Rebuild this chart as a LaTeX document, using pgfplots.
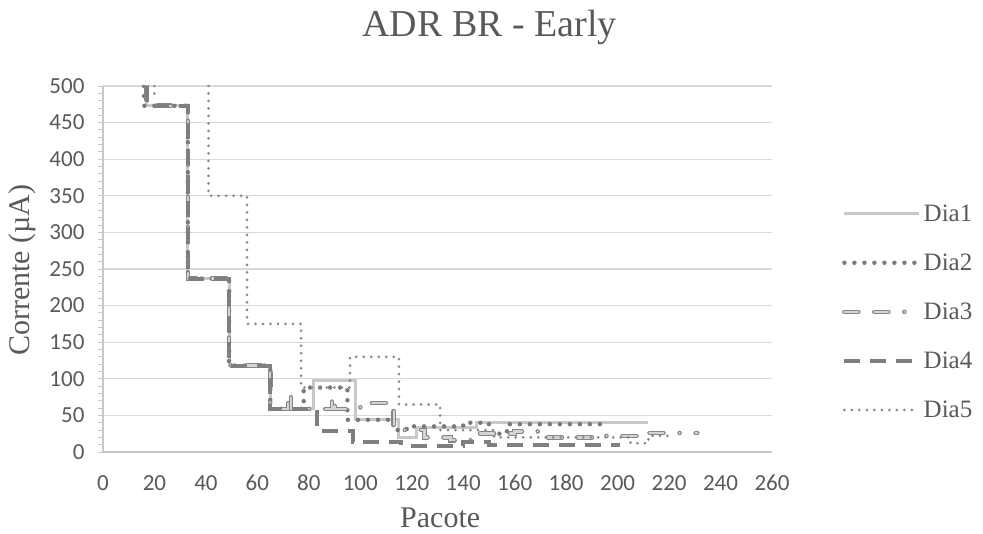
\documentclass[border=0pt]{standalone}
\usepackage{fontspec}
\setmainfont{Liberation Serif}
\newfontfamily\tickfont{Carlito}
\usepackage{pgfplots}
\pgfplotsset{compat=1.18}

\definecolor{gridc}{HTML}{D9D9D9}
\definecolor{axc}{HTML}{C8C8C8}
\definecolor{txt}{HTML}{595959}
\definecolor{dia1}{HTML}{C8C8C8}
\definecolor{dia2}{HTML}{7A7A7A}
\definecolor{dia3o}{HTML}{858585}
\definecolor{dia3f}{HTML}{D4D4D4}
\definecolor{dia4}{HTML}{7F7F7F}
\definecolor{dia5}{HTML}{8A8A8A}

\begin{document}
\begin{tikzpicture}[x=1pt,y=1pt]
\useasboundingbox (-103,-82) rectangle (880,452);
\begin{axis}[at={(0,0)}, anchor=south west, scale only axis,
  width=669pt, height=366pt,
  xmin=0, xmax=260, ymin=0, ymax=500,
  xtick={0,20,...,260}, ytick={0,50,...,500},
  minor y tick num=4,
  axis x line*=bottom, axis y line*=left,
  axis line style={-, draw=axc, line width=1.3pt},
  ymajorgrids, grid style={draw=gridc, line width=1.3pt},
  x tick style={draw=none},
  y tick style={draw=axc, line width=0.9pt},
  tick align=outside, major tick length=5pt, minor tick length=5pt,
  ticklabel style={font=\tickfont\fontsize{23}{26}\selectfont, text=txt},
  /pgf/number format/assume math mode=true,
  xticklabel style={anchor=base, yshift=-34pt},
  yticklabel style={xshift=-10pt},
  title={ADR BR - Early},
  title style={font=\fontsize{38}{42}\selectfont, text=txt, at={(axis description cs:0.578,1.145)}, anchor=center},
  xlabel={Pacote},
  xlabel style={font=\fontsize{30}{34}\selectfont, text=txt, inner sep=1pt, at={(axis description cs:0.504,-0.180)}, anchor=center},
  ylabel={Corrente (µA)},
  ylabel style={font=\fontsize{30}{34}\selectfont, text=txt, at={(axis description cs:-0.12,0.497)}, anchor=center},
  legend style={at={(axis description cs:1.1,0.383)}, anchor=west, draw=none, fill=none,
    font=\fontsize{25}{29}\selectfont, text=txt, row sep=27pt},
  legend cell align=left,
  legend image code/.code={\draw[#1] (0pt,0pt) -- (75pt,0pt);},
  clip=true,
]
\addplot[draw=dia1, line width=3pt] coordinates {
(17,500) (17,473) (33,473) (33,237) (49,237) (49,118) (65,118) (65,59)
(82,59) (82,97) (98,97) (98,45) (115,45) (115,20) (122,20) (122,33)
(145,33) (145,40) (212,40)};
\addlegendentry{Dia1}
\addplot[draw=dia2, line width=4.5pt, dash pattern=on 0pt off 10pt, line cap=round] coordinates {
(16,500) (16,473) (33,473) (33,237) (49,237) (49,118) (65,118) (65,59)
(78,59) (78,88) (95,88) (95,44) (113,44) (113,30) (118,30) (118,35)
(140,35) (140,40) (150,40) (150,25) (157,25) (157,38) (195,38)};
\addlegendentry{Dia2}
\addplot[draw=dia3o, double=dia3f, double distance=2.4pt, line width=1.1pt,
  dash pattern=on 14pt off 16pt on 14pt off 16pt on 0pt off 16pt, line cap=round] coordinates {
(17,500) (17,473) (33,473) (33,237) (49,237) (49,118) (65,118) (65,59)
(72,59) (72,80) (73,80) (73,59) (89,59) (89,75) (90,75) (90,59) (100,59)
(100,67) (113,67) (113,30) (125,30) (125,20) (135,20) (135,16) (145,16)
(145,25) (160,25) (160,28) (172,28) (172,20) (195,20) (195,22) (210,22)
(210,26) (231,26)};
\addlegendentry{Dia3}
\addplot[draw=dia4, line width=4pt, dash pattern=on 16pt off 10pt] coordinates {
(17,500) (17,473) (33,473) (33,237) (49,237) (49,118) (65,118) (65,59)
(83,59) (83,29) (97,29) (97,14) (116,14) (116,8) (140,8) (140,14)
(150,14) (150,10) (201,10)};
\addlegendentry{Dia4}
\addplot[draw=dia5, line width=3pt, dash pattern=on 0pt off 7.5pt, line cap=round] coordinates {
(41,500) (41,350) (56,350) (56,175) (77,175) (77,88)
(96,88) (96,130) (115,130) (115,65) (131,65) (131,30) (152,30) (152,20)
(205,20) (205,12) (212,12) (212,22) (222,22)};
\addlegendentry{Dia5}
\addplot[forget plot, draw=dia5, line width=3pt, dash pattern=on 0pt off 7.5pt, line cap=round] coordinates {
(20,500) (20,488)};
\end{axis}
\end{tikzpicture}
\end{document}
